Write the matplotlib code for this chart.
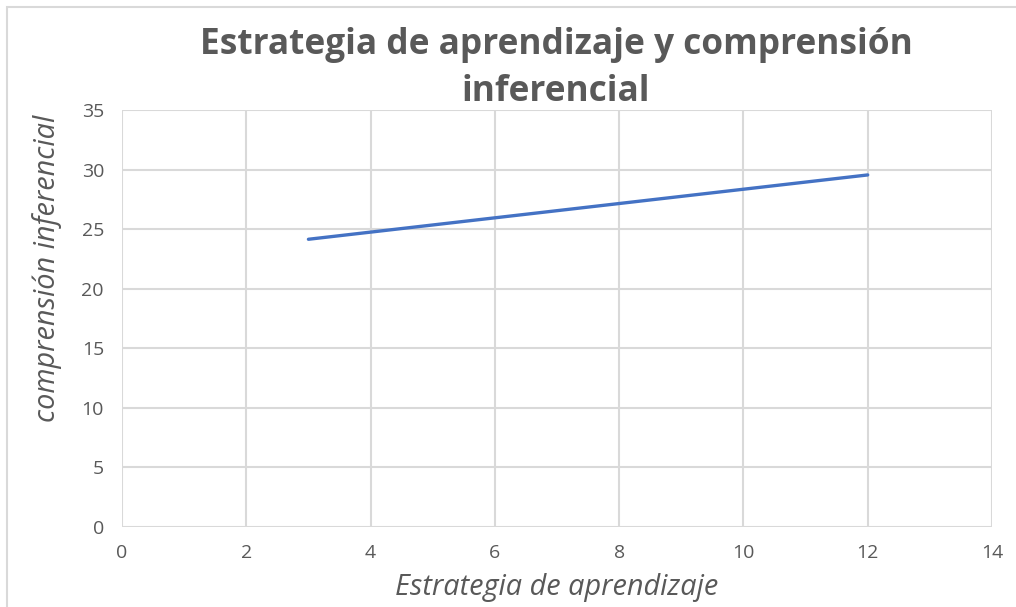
import matplotlib
matplotlib.use('Agg')
import matplotlib.pyplot as plt
from matplotlib.patches import Rectangle

# data
estrategia = [3, 12]
comprension = [24.15, 29.55]
x_ticks = [0, 2, 4, 6, 8, 10, 12, 14]
y_ticks = [0, 5, 10, 15, 20, 25, 30, 35]

plt.rcParams['font.family'] = ['Open Sans', 'DejaVu Sans']
text_color = '#595959'
grid_color = '#D9D9D9'

fig = plt.figure(figsize=(10.16, 6.07), dpi=100)
ax = fig.add_axes([122 / 1016, 1 - 527 / 607, 870 / 1016, 417 / 607])

ax.plot(estrategia, comprension, color='#4472C4', linewidth=2.4, solid_capstyle='round')

ax.set_xlim(0, 14)
ax.set_ylim(0, 35)
ax.set_xticks(x_ticks)
ax.set_yticks(y_ticks)
ax.grid(True, color=grid_color, linewidth=1.5)
ax.set_axisbelow(True)
for s in ax.spines.values():
    s.set_visible(False)
ax.tick_params(length=0, labelsize=14, colors=text_color, pad=13)
ax.tick_params(axis='x', pad=12)

fig.text(556 / 1016, 1 - 45 / 607, 'Estrategia de aprendizaje y comprensión',
         ha='center', va='center', fontsize=25.4, fontweight='bold', color=text_color)
fig.text(556 / 1016, 1 - 92 / 607, 'inferencial',
         ha='center', va='center', fontsize=25.4, fontweight='bold', color=text_color)
fig.text(557 / 1016, 1 - 588 / 607, 'Estrategia de aprendizaje',
         ha='center', va='center', fontsize=20.8, style='italic', color=text_color)
fig.text(47 / 1016, 1 - 268 / 607, 'comprensión inferencial', rotation=90,
         ha='center', va='center', fontsize=20.8, style='italic', color=text_color)

# outer chart border
fig.patches.append(Rectangle((7 / 1016, -0.1), 1.2, 1.1 - 7 / 607, transform=fig.transFigure,
                             fill=False, edgecolor=grid_color, linewidth=1.5))

fig.savefig('out.png', dpi=100)
